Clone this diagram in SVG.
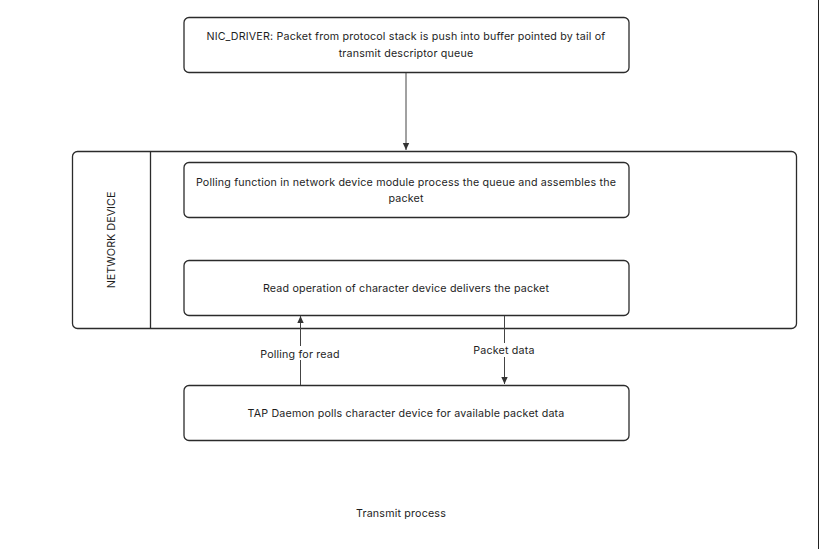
<svg xmlns="http://www.w3.org/2000/svg" width="820" height="549" viewBox="0 0 820 549">
<style>
.box{fill:#fff;stroke:#2b2b2b;stroke-width:1.3}
.t{font-family:Inter,"Liberation Sans",sans-serif;font-size:10.7px;letter-spacing:0.18px;fill:#1e1e1e;text-anchor:middle}
.c{stroke:#444;stroke-width:1;fill:none}
</style>
<defs>
<marker id="ah" markerWidth="8" markerHeight="8" refX="7" refY="4" orient="auto" markerUnits="userSpaceOnUse">
<path d="M0,0.8 L7,4 L0,7.2 Z" fill="#333"/>
</marker>
</defs>
<rect width="820" height="549" fill="#fff"/>
<line x1="818.5" y1="0" x2="818.5" y2="549" stroke="#222" stroke-width="1"/>
<g id="network-device">
<rect class="box" x="72.5" y="151.5" width="724" height="177" rx="5"/>
<line x1="150.5" y1="151.5" x2="150.5" y2="328.5" stroke="#2b2b2b" stroke-width="1.3"/>
<text class="t" transform="translate(115,240) rotate(-90)" style="font-size:10.8px;letter-spacing:0">NETWORK DEVICE</text>
</g>
<g id="nic-driver">
<rect class="box" x="184" y="17.5" width="445" height="55" rx="5"/>
<text class="t" x="406" y="40">NIC_DRIVER: Packet from protocol stack is push into buffer pointed by tail of</text>
<text class="t" x="406" y="57">transmit descriptor queue</text>
</g>
<g id="polling-function">
<rect class="box" x="184" y="162.5" width="445" height="55" rx="5"/>
<text class="t" x="406" y="186">Polling function in network device module process the queue and assembles the</text>
<text class="t" x="406" y="202">packet</text>
</g>
<g id="read-operation">
<rect class="box" x="184" y="260.5" width="445" height="55" rx="5"/>
<text class="t" x="406" y="292">Read operation of character device delivers the packet</text>
</g>
<g id="tap-daemon">
<rect class="box" x="184" y="385.5" width="445" height="55" rx="5"/>
<text class="t" x="406" y="417">TAP Daemon polls character device for available packet data</text>
</g>
<g id="connectors">
<line class="c" x1="406" y1="73" x2="406" y2="150" marker-end="url(#ah)"/>
<line class="c" x1="300.5" y1="385" x2="300.5" y2="316" marker-end="url(#ah)"/>
<line class="c" x1="504.5" y1="316" x2="504.5" y2="384" marker-end="url(#ah)"/>
<rect x="257" y="346" width="87" height="14" fill="#fff"/>
<text class="t" x="300" y="358">Polling for read</text>
<rect x="470" y="343" width="69" height="14" fill="#fff"/>
<text class="t" x="504" y="354">Packet data</text>
</g>
<text class="t" x="401" y="517">Transmit process</text>
</svg>
